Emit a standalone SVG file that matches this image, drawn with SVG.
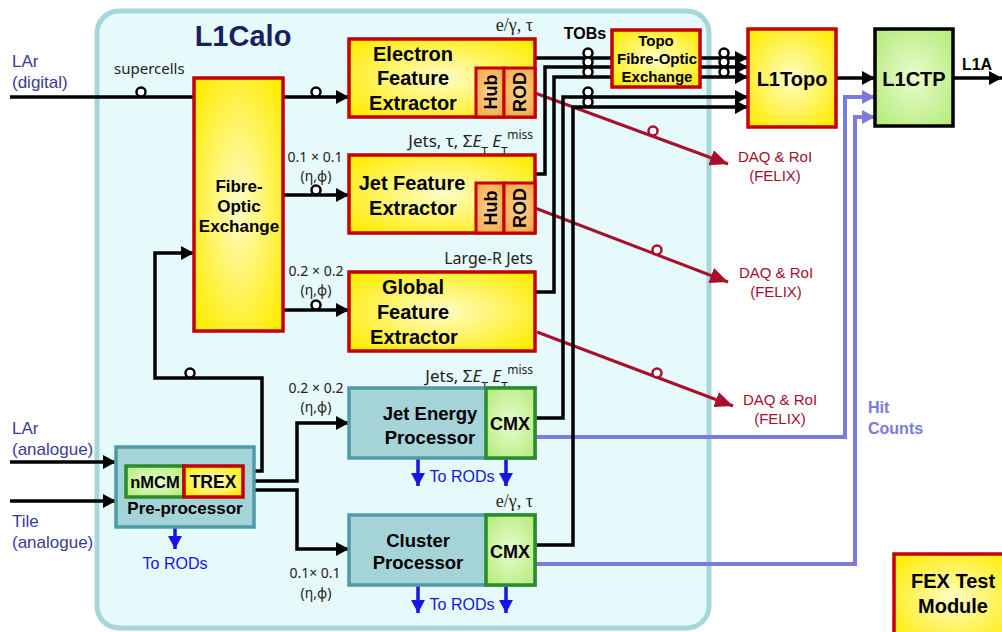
<svg xmlns="http://www.w3.org/2000/svg" width="1002" height="632" viewBox="0 0 1002 632">
<style>
.bk{fill:none;stroke:#000;stroke-width:3.5}
.ring{fill:#fff;stroke:#000;stroke-width:2.5}
.rd{fill:none;stroke:#a8102c;stroke-width:3}
.rring{fill:#fff;stroke:#a8102c;stroke-width:2.5}
.pu{fill:none;stroke:#7b7bd9;stroke-width:4}
.bl{fill:none;stroke:#1515e6;stroke-width:3.5}
.yb{fill:url(#gY);stroke:#c40000;stroke-width:3.5}
.ob{fill:url(#gO);stroke:#c40000;stroke-width:3}
.tb{fill:#a4d3d8;stroke:#4f9ba6;stroke-width:3.5}
.gb{fill:url(#gG);stroke:#2b8c2b;stroke-width:3.5}
.t{font-family:"Liberation Sans",Arial,sans-serif;font-weight:bold;fill:#000;text-anchor:middle}
.sm{font-family:"Noto Sans","DejaVu Sans",sans-serif;font-size:15px;fill:#222}
.nm{font-family:"Noto Sans","DejaVu Sans",sans-serif;font-size:14px;fill:#222;text-anchor:middle}
.sr{font-family:"Liberation Serif","Times New Roman",serif;font-size:18px;fill:#222;text-anchor:end}
.in{font-family:"Liberation Sans",Arial,sans-serif;font-size:17px;fill:#3a3a96}
.daq{font-family:"Liberation Sans",Arial,sans-serif;font-size:15px;fill:#a01030;text-anchor:middle}
.rod{font-family:"Liberation Sans",Arial,sans-serif;font-size:16px;fill:#1515e6}
</style>
<defs>
<radialGradient id="gY" cx="50%" cy="50%" r="65%"><stop offset="0" stop-color="#fffcc8"/><stop offset="1" stop-color="#ffec00"/></radialGradient>
<radialGradient id="gO" cx="50%" cy="50%" r="65%"><stop offset="0" stop-color="#fcd594"/><stop offset="1" stop-color="#f5a746"/></radialGradient>
<radialGradient id="gG" cx="50%" cy="50%" r="65%"><stop offset="0" stop-color="#e8fccc"/><stop offset="1" stop-color="#b6ec7e"/></radialGradient>
<marker id="ak" markerUnits="userSpaceOnUse" markerWidth="14" markerHeight="14" refX="13" refY="7" orient="auto"><path d="M0,0 L13,7 L0,14 z" fill="#000"/></marker>
<marker id="ar" markerUnits="userSpaceOnUse" markerWidth="18" markerHeight="16" refX="18" refY="8" orient="auto"><path d="M0,0 L18,8 L0,16 z" fill="#a8102c"/></marker>
<marker id="ap" markerUnits="userSpaceOnUse" markerWidth="13" markerHeight="14" refX="13" refY="7" orient="auto"><path d="M0,0 L13,7 L0,14 z" fill="#7b7bd9"/></marker>
<marker id="ab" markerUnits="userSpaceOnUse" markerWidth="14" markerHeight="14" refX="13" refY="7" orient="auto"><path d="M0,0 L13,7 L0,14 z" fill="#1515e6"/></marker>
</defs>
<rect width="1002" height="632" fill="#fff"/>

<g id="l1calo">
<rect x="97" y="11" width="612" height="617" rx="22" fill="#e6fafb" stroke="#a6d5da" stroke-width="5"/>
<text x="243" y="46" class="t" style="font-size:29px;fill:#1b1f5e">L1Calo</text>
</g>

<g id="labels">
<text x="12" y="67" class="in">LAr</text>
<text x="12" y="88" class="in">(digital)</text>
<text x="12" y="434" class="in">LAr</text>
<text x="12" y="455" class="in">(analogue)</text>
<text x="12" y="527" class="in">Tile</text>
<text x="12" y="548" class="in">(analogue)</text>
<text x="114" y="74" class="sm">supercells</text>
<text x="533" y="31" class="sr">e/γ, τ</text>
<text x="533" y="147" class="sm" style="font-size:17px;text-anchor:end">Jets, τ, Σ<tspan font-style="italic">E</tspan><tspan baseline-shift="sub" font-size="12">T</tspan> <tspan font-style="italic">E</tspan><tspan baseline-shift="sub" font-size="12">T</tspan><tspan baseline-shift="super" font-size="12">miss</tspan></text>
<text x="533" y="264" class="sm" style="font-size:16px;text-anchor:end">Large-R Jets</text>
<text x="533" y="382" class="sm" style="font-size:17px;text-anchor:end">Jets, Σ<tspan font-style="italic">E</tspan><tspan baseline-shift="sub" font-size="12">T</tspan> <tspan font-style="italic">E</tspan><tspan baseline-shift="sub" font-size="12">T</tspan><tspan baseline-shift="super" font-size="12">miss</tspan></text>
<text x="533" y="507" class="sr">e/γ, τ</text>
<text x="315" y="162" class="nm">0.1 × 0.1</text>
<text x="316" y="181" class="nm">(η,ϕ)</text>
<text x="316" y="276" class="nm">0.2 × 0.2</text>
<text x="316" y="295" class="nm">(η,ϕ)</text>
<text x="316" y="393" class="nm">0.2 × 0.2</text>
<text x="316" y="412" class="nm">(η,ϕ)</text>
<text x="315" y="578" class="nm">0.1× 0.1</text>
<text x="316" y="598" class="nm">(η,ϕ)</text>
<text x="585" y="39" class="t" style="font-size:16px">TOBs</text>
<text x="775" y="162" class="daq">DAQ &amp; RoI</text>
<text x="775" y="181" class="daq">(FELIX)</text>
<text x="776" y="278" class="daq">DAQ &amp; RoI</text>
<text x="776" y="297" class="daq">(FELIX)</text>
<text x="780" y="405" class="daq">DAQ &amp; RoI</text>
<text x="780" y="424" class="daq">(FELIX)</text>
<text x="868" y="413" class="t" style="font-size:16px;fill:#7b7bd9;text-anchor:start">Hit</text>
<text x="868" y="434" class="t" style="font-size:16px;fill:#7b7bd9;text-anchor:start">Counts</text>
<text x="977" y="70" class="t" style="font-size:16px">L1A</text>
<text x="175" y="569" class="rod" text-anchor="middle">To RODs</text>
<text x="462" y="482" class="rod" text-anchor="middle">To RODs</text>
<text x="462" y="610" class="rod" text-anchor="middle">To RODs</text>
</g>

<g id="connectors">
<path class="pu" d="M535,437 H845 V97 H875" marker-end="url(#ap)"/>
<path class="pu" d="M535,564 H855 V117 H875" marker-end="url(#ap)"/>
<path class="rd" d="M535,93 L728,164" marker-end="url(#ar)"/>
<path class="rd" d="M535,208 L728,282" marker-end="url(#ar)"/>
<path class="rd" d="M537,332 L733,406" marker-end="url(#ar)"/>
<circle class="rring" cx="653" cy="131" r="4.5"/>
<circle class="rring" cx="657" cy="250" r="4.5"/>
<circle class="rring" cx="657" cy="373" r="4.5"/>
<path class="bk" d="M10,97 H193"/>
<path class="bk" d="M283,97 H349" marker-end="url(#ak)"/>
<path class="bk" d="M283,195 H349" marker-end="url(#ak)"/>
<path class="bk" d="M283,310 H349" marker-end="url(#ak)"/>
<path class="bk" d="M243,471 H262 V378 H155 V253 H194" marker-end="url(#ak)"/>
<path class="bk" d="M243,481 H297 V423 H349" marker-end="url(#ak)"/>
<path class="bk" d="M243,490 H297 V549 H349" marker-end="url(#ak)"/>
<path class="bk" d="M10,462 H116" marker-end="url(#ak)"/>
<path class="bk" d="M10,501 H116" marker-end="url(#ak)"/>
<path class="bk" d="M535,58 H612"/>
<path class="bk" d="M535,174 H545 V67 H612"/>
<path class="bk" d="M535,292 H554 V77 H612"/>
<path class="bk" d="M535,418 H563 V97 H748" marker-end="url(#ak)"/>
<path class="bk" d="M535,545 H573 V107 H748" marker-end="url(#ak)"/>
<path class="bk" d="M700,58 H748" marker-end="url(#ak)"/>
<path class="bk" d="M700,67 H748" marker-end="url(#ak)"/>
<path class="bk" d="M700,77 H748" marker-end="url(#ak)"/>
<path class="bk" d="M836,78 H875" marker-end="url(#ak)"/>
<path class="bk" d="M953,78 H1002" marker-end="url(#ak)"/>
<circle class="ring" cx="141" cy="92" r="4.5"/>
<circle class="ring" cx="316" cy="92" r="4.5"/>
<circle class="ring" cx="316" cy="190" r="4.5"/>
<circle class="ring" cx="316" cy="305" r="4.5"/>
<circle class="ring" cx="190" cy="373" r="4.5"/>
<circle class="ring" cx="588" cy="53" r="4.5"/>
<circle class="ring" cx="588" cy="62" r="4.5"/>
<circle class="ring" cx="588" cy="72" r="4.5"/>
<circle class="ring" cx="588" cy="92" r="4.5"/>
<circle class="ring" cx="588" cy="102" r="4.5"/>
<circle class="ring" cx="724" cy="53" r="4.5"/>
<circle class="ring" cx="724" cy="62" r="4.5"/>
<circle class="ring" cx="724" cy="72" r="4.5"/>
<path class="bl" d="M175,526 V549" marker-end="url(#ab)"/>
<path class="bl" d="M418,458 V486" marker-end="url(#ab)"/>
<path class="bl" d="M506,458 V486" marker-end="url(#ab)"/>
<path class="bl" d="M418,585 V613" marker-end="url(#ab)"/>
<path class="bl" d="M506,585 V613" marker-end="url(#ab)"/>
</g>

<g id="fibre-optic-exchange">
<rect class="yb" x="194" y="78" width="89" height="253"/>
<text class="t" x="239" y="192" style="font-size:17px">Fibre-</text>
<text class="t" x="239" y="212" style="font-size:17px">Optic</text>
<text class="t" x="239" y="232" style="font-size:17px">Exchange</text>
</g>

<g id="electron-feature-extractor">
<rect class="yb" x="349" y="39" width="186" height="78"/>
<rect class="ob" x="476" y="68" width="28" height="49"/>
<rect class="ob" x="504" y="68" width="31" height="49"/>
<text class="t" x="413" y="61" style="font-size:20px">Electron</text>
<text class="t" x="413" y="85" style="font-size:20px">Feature</text>
<text class="t" x="413" y="110" style="font-size:20px">Extractor</text>
<text class="t" transform="translate(497,92) rotate(-90)" style="font-size:18px">Hub</text>
<text class="t" transform="translate(526,92) rotate(-90)" style="font-size:18px">ROD</text>
</g>

<g id="jet-feature-extractor">
<rect class="yb" x="349" y="155" width="186" height="78"/>
<rect class="ob" x="476" y="183" width="28" height="50"/>
<rect class="ob" x="504" y="183" width="31" height="50"/>
<text class="t" x="412" y="190" style="font-size:20px">Jet Feature</text>
<text class="t" x="413" y="215" style="font-size:20px">Extractor</text>
<text class="t" transform="translate(497,208) rotate(-90)" style="font-size:18px">Hub</text>
<text class="t" transform="translate(526,208) rotate(-90)" style="font-size:18px">ROD</text>
</g>

<g id="global-feature-extractor">
<rect class="yb" x="349" y="272" width="186" height="79"/>
<text class="t" x="413" y="294" style="font-size:20px">Global</text>
<text class="t" x="413" y="319" style="font-size:20px">Feature</text>
<text class="t" x="414" y="344" style="font-size:20px">Extractor</text>
</g>

<g id="jet-energy-processor">
<rect class="tb" x="349" y="388" width="186" height="70"/>
<rect class="gb" x="486" y="388" width="49" height="70"/>
<text class="t" x="430" y="420" style="font-size:18.5px">Jet Energy</text>
<text class="t" x="430" y="444" style="font-size:18.5px">Processor</text>
<text class="t" x="510" y="430" style="font-size:18px">CMX</text>
</g>

<g id="cluster-processor">
<rect class="tb" x="349" y="515" width="186" height="70"/>
<rect class="gb" x="486" y="515" width="49" height="70"/>
<text class="t" x="418" y="547" style="font-size:18.5px">Cluster</text>
<text class="t" x="418" y="569" style="font-size:18.5px">Processor</text>
<text class="t" x="510" y="558" style="font-size:18px">CMX</text>
</g>

<g id="pre-processor">
<rect class="tb" x="116" y="447" width="138" height="80"/>
<rect class="gb" x="126" y="466" width="58" height="31"/>
<rect x="184" y="466" width="59" height="31" fill="url(#gY)" stroke="#c40000" stroke-width="3.5"/>
<text class="t" x="155" y="488" style="font-size:16.5px">nMCM</text>
<text class="t" x="213" y="488" style="font-size:17.5px">TREX</text>
<text class="t" x="185" y="514" style="font-size:17px">Pre-processor</text>
</g>

<g id="topo-fibre-optic-exchange">
<rect class="yb" x="612" y="30" width="88" height="57"/>
<text class="t" x="656" y="46" style="font-size:15px">Topo</text>
<text class="t" x="657" y="64" style="font-size:15px">Fibre-Optic</text>
<text class="t" x="657" y="82" style="font-size:15px">Exchange</text>
</g>

<g id="l1topo">
<rect class="yb" x="748" y="29" width="88" height="98"/>
<text class="t" x="792" y="86" style="font-size:20px">L1Topo</text>
</g>

<g id="l1ctp">
<rect x="875" y="29" width="78" height="97" fill="url(#gG)" stroke="#000" stroke-width="3.5"/>
<text class="t" x="914" y="86" style="font-size:20px">L1CTP</text>
</g>

<g id="fex-test-module">
<rect class="yb" x="894" y="554" width="120" height="90"/>
<text class="t" x="953" y="588" style="font-size:20px">FEX Test</text>
<text class="t" x="953" y="613" style="font-size:20px">Module</text>
</g>
</svg>
